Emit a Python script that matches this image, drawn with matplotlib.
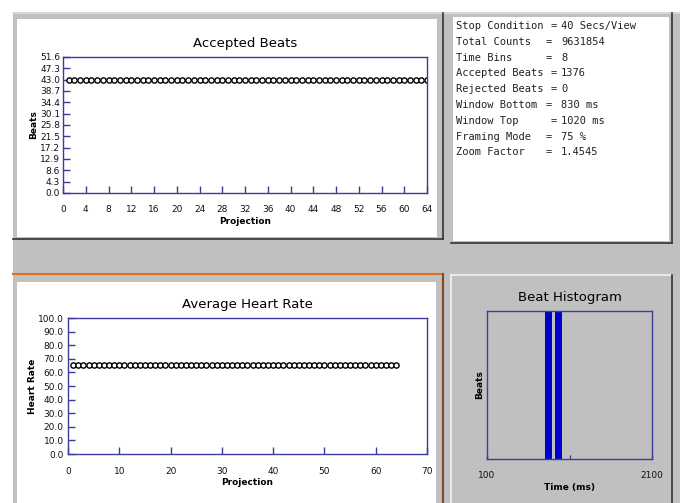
import matplotlib
matplotlib.use('Agg')
import matplotlib.pyplot as plt
from matplotlib.patches import Rectangle
from matplotlib.lines import Line2D

# ---- data ----
projection = list(range(1, 65))
accepted_beats = [
    43.0, 43.0, 43.0, 43.0, 43.0, 43.0, 43.0, 43.0, 43.0, 43.0, 43.0, 43.0, 43.0, 43.0, 43.0, 43.0,
    43.0, 43.0, 43.0, 43.0, 43.0, 43.0, 43.0, 43.0, 43.0, 43.0, 43.0, 43.0, 43.0, 43.0, 43.0, 43.0,
    43.0, 43.0, 43.0, 43.0, 43.0, 43.0, 43.0, 43.0, 43.0, 43.0, 43.0, 43.0, 43.0, 43.0, 43.0, 43.0,
    43.0, 43.0, 43.0, 43.0, 43.0, 43.0, 43.0, 43.0, 43.0, 43.0, 43.0, 43.0, 43.0, 43.0, 43.0, 43.0,
]
heart_rate = [
    65.5, 65.5, 65.5, 65.5, 65.5, 65.5, 65.5, 65.5, 65.5, 65.5, 65.5, 65.5, 65.5, 65.5, 65.5, 65.5,
    65.5, 65.5, 65.5, 65.5, 65.5, 65.5, 65.5, 65.5, 65.5, 65.5, 65.5, 65.5, 65.5, 65.5, 65.5, 65.5,
    65.5, 65.5, 65.5, 65.5, 65.5, 65.5, 65.5, 65.5, 65.5, 65.5, 65.5, 65.5, 65.5, 65.5, 65.5, 65.5,
    65.5, 65.5, 65.5, 65.5, 65.5, 65.5, 65.5, 65.5, 65.5, 65.5, 65.5, 65.5, 65.5, 65.5, 65.5, 65.5,
]
beats_yticks = [0.0, 4.3, 8.6, 12.9, 17.2, 21.5, 25.8, 30.1, 34.4, 38.7, 43.0, 47.3, 51.6]
beats_xticks = [0, 4, 8, 12, 16, 20, 24, 28, 32, 36, 40, 44, 48, 52, 56, 60, 64]
hr_yticks = [0, 10, 20, 30, 40, 50, 60, 70, 80, 90, 100]
hr_xticks = [0, 10, 20, 30, 40, 50, 60, 70]

hist_left = [803, 925]      # ms
hist_width = [90, 90]
hist_counts = [688, 688]
hist_xticks = [100, 1100, 2100]
hist_xlabels = ['100', '', '2100']

info_keys = ['Stop Condition', 'Total Counts', 'Time Bins', 'Accepted Beats', 'Rejected Beats',
             'Window Bottom', 'Window Top', 'Framing Mode', 'Zoom Factor']
info_vals = ['40 Secs/View', '9631854', '8', '1376', '0', '830 ms', '1020 ms', '75 %', '1.4545']
info_eq_x = [551, 546, 546, 551, 551, 546, 551, 546, 546]

W, H = 680, 503
GRAY = '#c0c0c0'
BLUE = '#3c3c9c'


def frac(x0, y0, x1, y1):
    # pixel box (top-left origin) -> figure fraction rect
    return [x0 / W, 1 - y1 / H, (x1 - x0) / W, (y1 - y0) / H]


def rect(fig, x0, y0, x1, y1, color):
    l, b, w, h = frac(x0, y0, x1, y1)
    fig.add_artist(Rectangle((l, b), w, h, transform=fig.transFigure,
                             facecolor=color, edgecolor='none', zorder=0))


def seg(fig, x0, y0, x1, y1, color, lw=1.0):
    fig.add_artist(Line2D([x0 / W, x1 / W], [1 - y0 / H, 1 - y1 / H],
                          transform=fig.transFigure, color=color, lw=lw, zorder=1))


def style_axes(ax):
    for s in ax.spines.values():
        s.set_color(BLUE)
        s.set_linewidth(1.0)
    ax.tick_params(direction='in', color=BLUE, length=5, width=1,
                   labelsize=6.5, labelcolor='#111111')


fig = plt.figure(figsize=(6.8, 5.03), dpi=100, facecolor='white')

# window background and panels
rect(fig, 13, 12, 680, 503, GRAY)
seg(fig, 13, 13, 680, 13, '#dcdcdc', 1.2)
rect(fig, 17, 19, 437, 237, 'white')
seg(fig, 13, 239, 443, 239, '#333333', 1.2)
seg(fig, 443, 13, 443, 239, '#333333', 1.2)
rect(fig, 453, 17, 669, 241, 'white')
seg(fig, 451, 243, 672, 243, '#333333', 1.2)
seg(fig, 672, 13, 672, 243, '#333333', 1.2)
seg(fig, 13, 274, 443, 274, '#e07020', 1.5)
seg(fig, 443, 274, 443, 503, '#7a4a2a', 1.5)
rect(fig, 17, 282, 436, 503, 'white')
seg(fig, 451, 275, 672, 275, '#f2f2f2', 1.2)
seg(fig, 451, 275, 451, 503, '#f2f2f2', 1.2)
seg(fig, 672, 275, 672, 503, '#333333', 1.2)

marker_style = dict(linestyle='none', marker='o', markersize=3.8, markerfacecolor='white',
                    markeredgecolor='black', markeredgewidth=1.0)

# ---- Accepted Beats ----
ax1 = fig.add_axes(frac(63, 57, 427, 193))
ax1.plot(projection, accepted_beats, **marker_style)
ax1.set_xlim(0, 64)
ax1.set_ylim(0, 51.6)
ax1.set_xticks(beats_xticks)
ax1.set_yticks(beats_yticks)
ax1.set_yticklabels([f'{v:.1f}' for v in beats_yticks])
style_axes(ax1)
ax1.tick_params(axis='x', pad=9)
ax1.tick_params(axis='y', pad=2)
ax1.set_title('Accepted Beats', fontsize=9.5, pad=7.5)
ax1.set_xlabel('Projection', fontsize=6.5, fontweight='bold', labelpad=2)
ax1.set_ylabel('Beats', fontsize=6.5, fontweight='bold', labelpad=1.5)

# ---- Average Heart Rate ----
ax2 = fig.add_axes(frac(68, 318, 427, 454))
ax2.plot(projection, heart_rate, **marker_style)
ax2.set_xlim(0, 70)
ax2.set_ylim(0, 100)
ax2.set_xticks(hr_xticks)
ax2.set_yticks(hr_yticks)
ax2.set_yticklabels([f'{v:.1f}' for v in hr_yticks])
style_axes(ax2)
ax2.tick_params(axis='x', pad=9)
ax2.tick_params(axis='y', pad=3)
ax2.set_title('Average Heart Rate', fontsize=9.5, pad=7.5)
ax2.set_xlabel('Projection', fontsize=6.5, fontweight='bold', labelpad=2)
ax2.set_ylabel('Heart Rate', fontsize=6.5, fontweight='bold', labelpad=0.5)

# ---- Beat Histogram ----
ax3 = fig.add_axes(frac(487, 311, 652, 459))
ax3.set_facecolor(GRAY)
ax3.bar(hist_left, hist_counts, width=hist_width, align='edge', color='#0000cc')
ax3.set_xlim(100, 2100)
ax3.set_ylim(0, 688)
ax3.set_xticks(hist_xticks)
ax3.set_xticklabels(hist_xlabels)
ax3.set_yticks([])
style_axes(ax3)
ax3.tick_params(axis='x', pad=9, length=3)
ax3.set_title('Beat Histogram', fontsize=9.5, pad=7)
ax3.set_xlabel('Time (ms)', fontsize=6.5, fontweight='bold', labelpad=2)
ax3.set_ylabel('Beats', fontsize=6.5, fontweight='bold', labelpad=2)

# ---- status text ----
for i, (k, v, ex) in enumerate(zip(info_keys, info_vals, info_eq_x)):
    y = 1 - (26 + i * 15.8) / H
    kw = dict(family='DejaVu Sans Mono', fontsize=7.5, va='center', color='#222222')
    fig.text(456 / W, y, k, **kw)
    fig.text(ex / W, y, '=', **kw)
    fig.text(561 / W, y, v, **kw)

fig.savefig('out.png', dpi=100, facecolor=fig.get_facecolor())
